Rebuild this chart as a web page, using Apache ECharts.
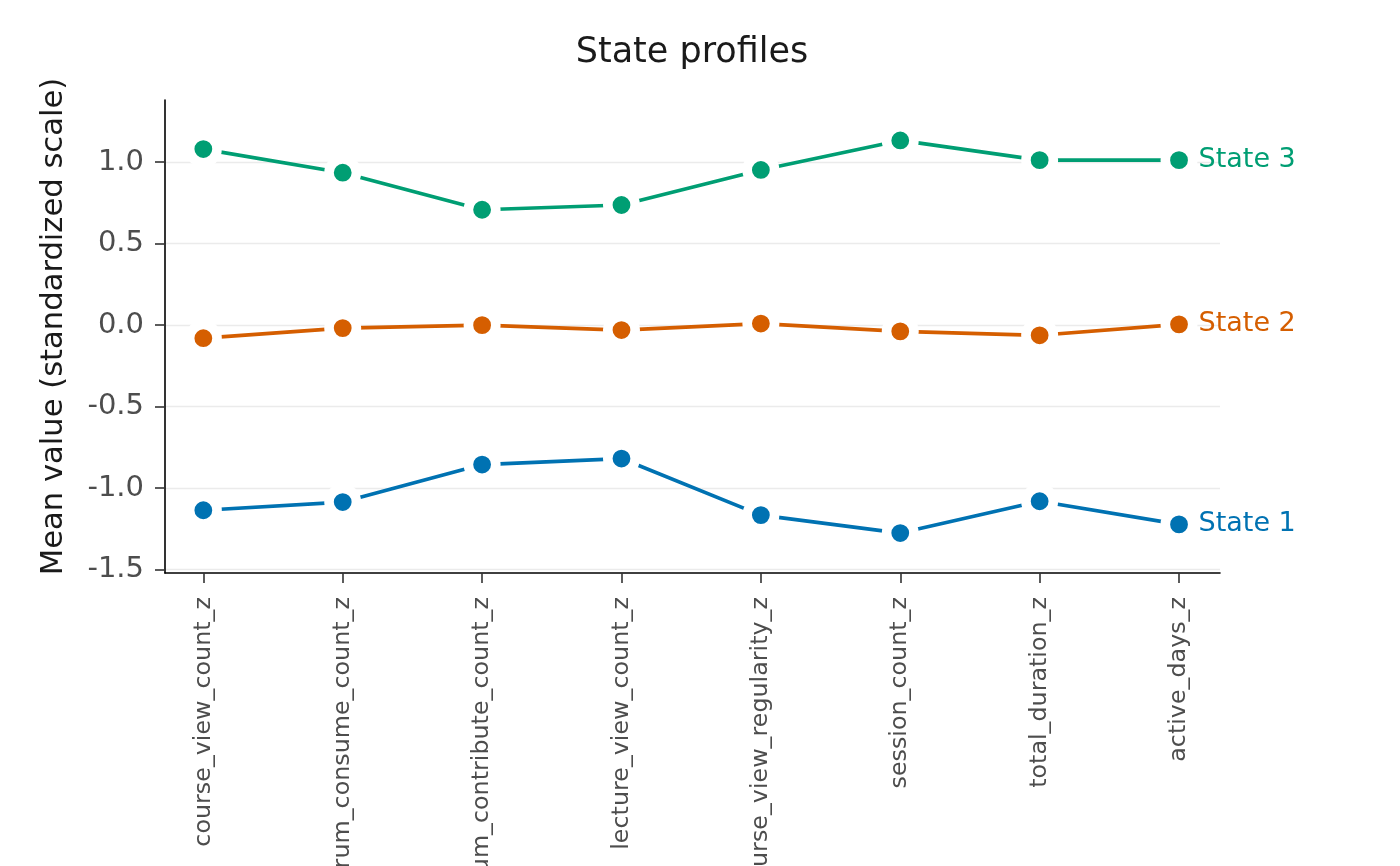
<!DOCTYPE html>
<html>
<head>
<meta charset="utf-8">
<script src="https://cdn.jsdelivr.net/npm/echarts@6/dist/echarts.min.js"></script>
<style>
html,body{margin:0;padding:0;background:#fff;}
#chart{width:1400px;height:866px;}
</style>
</head>
<body>
<div id="chart"></div>
<script>
const categories = ['course_view_count_z','forum_consume_count_z','forum_contribute_count_z','lecture_view_count_z','course_view_regularity_z','session_count_z','total_duration_z','active_days_z'];
const state1 = [-1.135, -1.085, -0.855, -0.818, -1.165, -1.275, -1.080, -1.222];
const state2 = [-0.080, -0.018, 0.000, -0.030, 0.010, -0.038, -0.062, 0.005];
const state3 = [1.080, 0.935, 0.708, 0.737, 0.952, 1.133, 1.012, 1.012];
const seriesNames = ['State 1', 'State 2', 'State 3'];
const seriesColors = ['#0072B2', '#D55E00', '#009E73'];
const yTicks = [-1.5, -1.0, -0.5, 0.0, 0.5, 1.0];
const xTicks = categories.map((c, i) => i);

const FONT = 'DejaVu Sans';
const chart = echarts.init(document.getElementById('chart'), null, {renderer: 'canvas'});

function makeSeries(name, values, color) {
  const pts = values.map((v, i) => [i, v]);
  return [{
    name: name,
    type: 'line',
    data: pts,
    showSymbol: false,
    symbol: 'none',
    lineStyle: {color: color, width: 3.7, cap: 'round'},
    emphasis: {disabled: true},
    z: 2
  }, {
    name: name,
    type: 'scatter',
    data: pts.map((p, i) => {
      const item = {value: p};
      if (i === pts.length - 1) {
        item.label = {
          show: true, position: 'right', distance: 1,
          formatter: name, color: color, fontSize: 27, fontFamily: FONT
        };
      }
      return item;
    }),
    symbol: 'circle',
    symbolSize: 27.4,
    itemStyle: {color: color, borderColor: '#ffffff', borderWidth: 9.6, opacity: 1},
    emphasis: {disabled: true},
    z: 3
  }];
}

chart.setOption({
  animation: false,
  backgroundColor: '#ffffff',
  title: {
    text: 'State profiles',
    left: 692, top: 35, padding: 0, textAlign: 'center',
    textStyle: {fontFamily: FONT, fontSize: 35, fontWeight: 'normal', color: '#1a1a1a'}
  },
  grid: {left: 165, right: 180, top: 100, bottom: 293, containLabel: false, outerBoundsMode: 'none'},
  xAxis: {
    type: 'value', min: -0.275, max: 7.294,
    axisLine: {show: true, onZero: false, lineStyle: {color: '#000000', width: 1.6}},
    axisTick: {show: true, length: 10, customValues: xTicks, lineStyle: {color: '#333333', width: 1.6}},
    axisLabel: {
      show: true, rotate: 90, margin: 24, customValues: xTicks,
      formatter: v => categories[Math.round(v)],
      fontFamily: FONT, fontSize: 23.8, color: '#4d4d4d'
    },
    splitLine: {show: false}
  },
  yAxis: {
    type: 'value', min: -1.52, max: 1.381,
    name: 'Mean value (standardized scale)',
    nameLocation: 'middle', nameRotate: 90, nameGap: 95,
    nameTextStyle: {fontFamily: FONT, fontSize: 30.6, color: '#1a1a1a', padding: [0, 0, 0, 20]},
    axisLine: {show: true, onZero: false, lineStyle: {color: '#000000', width: 1.6}},
    axisTick: {show: true, length: 10, customValues: yTicks, lineStyle: {color: '#333333', width: 1.6}},
    axisLabel: {
      show: true, margin: 21, customValues: yTicks,
      formatter: v => v.toFixed(1),
      fontFamily: FONT, fontSize: 29, color: '#4d4d4d'
    },
    splitLine: {show: true, lineStyle: {color: '#ebebeb', width: 1.4}}
  },
  series: [].concat(
    makeSeries(seriesNames[0], state1, seriesColors[0]),
    makeSeries(seriesNames[1], state2, seriesColors[1]),
    makeSeries(seriesNames[2], state3, seriesColors[2])
  )
});
</script>
</body>
</html>
